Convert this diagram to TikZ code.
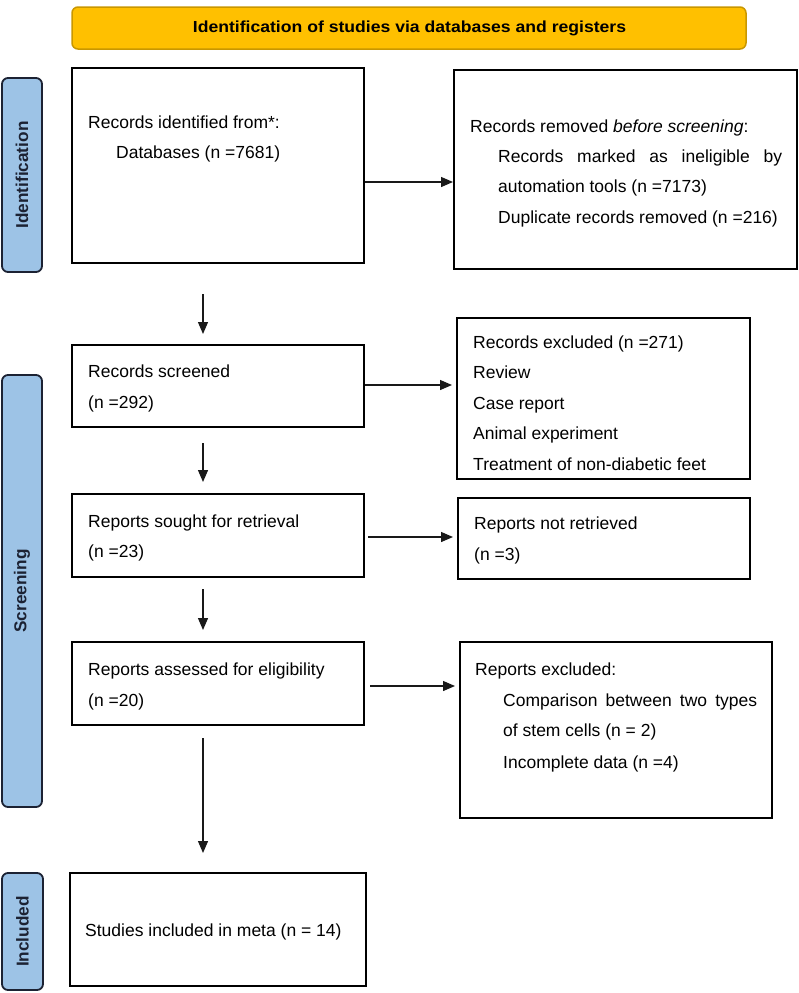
\documentclass[tikz,border=0pt]{standalone}
\usepackage{fontspec}
\setmainfont{Liberation Sans}
\usetikzlibrary{arrows.meta}
\definecolor{bannerfill}{HTML}{FFC000}
\definecolor{bannerdraw}{HTML}{C99700}
\definecolor{sidefill}{HTML}{9DC3E6}
\definecolor{sidedraw}{HTML}{1C2233}
\begin{document}
\begin{tikzpicture}[x=1pt,y=-1pt,
  pbox/.style={draw=black,line width=2pt,rectangle,inner sep=0pt},
  sidebox/.style={draw=sidedraw,fill=sidefill,line width=1.8pt,rectangle,rounded corners=6pt,inner sep=0pt},
  bannerbox/.style={draw=bannerdraw,fill=bannerfill,line width=1.5pt,rectangle,rounded corners=6pt,inner sep=0pt},
  txt/.style={anchor=base west,inner sep=0pt,font=\fontsize{17.5}{21}\selectfont},
  sidetxt/.style={rotate=90,inner sep=0pt,text=sidedraw,font=\fontsize{17.2}{21}\selectfont\bfseries},
  arr/.style={-{Triangle[length=12pt,width=10pt]},line width=1.3pt,draw=black!90}]
\useasboundingbox (0,0) rectangle (799,993);
% banner
\node[bannerbox,minimum width=674pt,minimum height=42pt] (ban) at (409,28) {};
\node[inner sep=0pt,font=\fontsize{16}{19}\selectfont\bfseries] (bantxt) at (409.5,28) {\scalebox{1.1}[1]{Identification of studies via databases and registers}};
% side labels
\node[sidebox,minimum width=40pt,minimum height=194pt] (s1) at (22,175) {};
\node[sidetxt] (s1t) at (22,175) {Identification};
\node[sidebox,minimum width=40pt,minimum height=432pt] (s2) at (22,591) {};
\node[sidetxt] (s2t) at (22,591) {Screening};
\node[sidebox,minimum width=41pt,minimum height=117pt] (s3) at (22.5,931.5) {};
\node[sidetxt] (s3t) at (22.5,931.5) {Included};
% boxes
\node[pbox,minimum width=292pt,minimum height=195pt] (b1) at (218,165.5) {};
\node[pbox,minimum width=343pt,minimum height=199pt] (b2) at (625.5,169.5) {};
\node[pbox,minimum width=292pt,minimum height=82pt] (b3) at (218,386) {};
\node[pbox,minimum width=293pt,minimum height=161pt] (b4) at (603.5,398.5) {};
\node[pbox,minimum width=292pt,minimum height=83pt] (b5) at (218,535.5) {};
\node[pbox,minimum width=292pt,minimum height=81pt] (b6) at (604,538.5) {};
\node[pbox,minimum width=292pt,minimum height=83pt] (b7) at (218,683.5) {};
\node[pbox,minimum width=312pt,minimum height=176pt] (b8) at (616,730) {};
\node[pbox,minimum width=296pt,minimum height=113pt] (b9) at (218,929.5) {};
% texts
\node[txt] (t1a) at (88,128) {Records identified from*:};
\node[txt] (t1b) at (116,158) {Databases (n =7681)};
\node[txt] (t2a) at (470,132) {Records removed \textit{before screening}:};
\node[txt] (t2b) at (498,162) {\makebox[284pt][s]{Records marked as ineligible by}};
\node[txt] (t2c) at (498,192) {automation tools (n =7173)};
\node[txt] (t2d) at (498,223) {Duplicate records removed (n =216)};
\node[txt] (t3a) at (88,377) {Records screened};
\node[txt] (t3b) at (88,408) {(n =292)};
\node[txt] (t4a) at (473,348) {Records excluded (n =271)};
\node[txt] (t4b) at (473,378) {Review};
\node[txt] (t4c) at (473,409) {Case report};
\node[txt] (t4d) at (473,439) {Animal experiment};
\node[txt] (t4e) at (473,470) {Treatment of non-diabetic feet};
\node[txt] (t5a) at (88,527) {Reports sought for retrieval};
\node[txt] (t5b) at (88,557) {(n =23)};
\node[txt] (t6a) at (474,529) {Reports not retrieved};
\node[txt] (t6b) at (474,560) {(n =3)};
\node[txt] (t7a) at (88,675) {Reports assessed for eligibility};
\node[txt] (t7b) at (88,706) {(n =20)};
\node[txt] (t8a) at (475,675) {Reports excluded:};
\node[txt] (t8b) at (503,706) {\makebox[254pt][s]{Comparison between two types}};
\node[txt] (t8c) at (503,736) {of stem cells (n = 2)};
\node[txt] (t8d) at (503,768) {Incomplete data (n =4)};
\node[txt] (t9a) at (85,936) {Studies included in meta (n = 14)};
% connector helpers
\coordinate (colx) at (203,0);
\coordinate (r1) at (0,182);
\coordinate (r2) at (0,385);
\coordinate (r3) at (0,537);
\coordinate (r4) at (0,686);
% horizontal arrows
\draw[arr] (b1.east |- r1) -- (b2.west |- r1);
\draw[arr,shorten >=4pt] (b3.east |- r2) -- (b4.west |- r2);
\draw[arr,shorten <=3pt,shorten >=4pt] (b5.east |- r3) -- (b6.west |- r3);
\draw[arr,shorten <=5pt,shorten >=4pt] (b7.east |- r4) -- (b8.west |- r4);
% vertical arrows
\draw[arr,shorten <=30pt,shorten >=10pt] (b1.south -| colx) -- (b3.north -| colx);
\draw[arr,shorten <=15pt,shorten >=11pt] (b3.south -| colx) -- (b5.north -| colx);
\draw[arr,shorten <=11pt,shorten >=11pt] (b5.south -| colx) -- (b7.north -| colx);
\draw[arr,shorten <=12pt,shorten >=19pt] (b7.south -| colx) -- (b9.north -| colx);
\end{tikzpicture}
\end{document}
